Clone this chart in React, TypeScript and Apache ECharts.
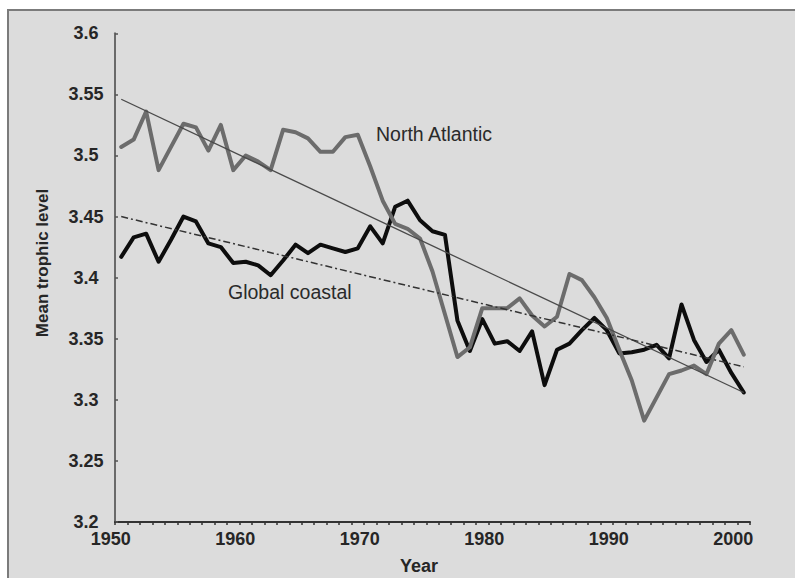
import React, { useEffect, useRef } from "react";
import * as echarts from "echarts";

// Categories: years 1950..2000
const years: string[] = [];
for (let y = 1950; y <= 2000; y++) years.push(String(y));

// Mean trophic level, North Atlantic (grey line)
const northAtlantic: number[] = [
  3.507, 3.513, 3.536, 3.488, 3.507, 3.526, 3.523, 3.504, 3.525, 3.488,
  3.500, 3.495, 3.488, 3.521, 3.519, 3.514, 3.503, 3.503, 3.515, 3.517,
  3.491, 3.463, 3.444, 3.440, 3.432, 3.405, 3.370, 3.335, 3.343, 3.375,
  3.375, 3.375, 3.383, 3.369, 3.360, 3.368, 3.403, 3.398, 3.384, 3.367,
  3.341, 3.316, 3.283, 3.302, 3.321, 3.324, 3.328, 3.321, 3.346, 3.357,
  3.337,
];

// Mean trophic level, Global coastal (black line)
const globalCoastal: number[] = [
  3.417, 3.433, 3.436, 3.413, 3.431, 3.450, 3.446, 3.428, 3.425, 3.412,
  3.413, 3.410, 3.402, 3.414, 3.427, 3.420, 3.427, 3.424, 3.421, 3.424,
  3.442, 3.428, 3.458, 3.463, 3.447, 3.438, 3.435, 3.365, 3.340, 3.366,
  3.346, 3.348, 3.340, 3.356, 3.312, 3.341, 3.346, 3.357, 3.367, 3.357,
  3.338, 3.339, 3.341, 3.345, 3.334, 3.378, 3.349, 3.331, 3.341, 3.322,
  3.306,
];

// Linear trend end points (1950, 2000)
const northAtlanticTrend: number[] = [3.546, 3.306];
const globalCoastalTrend: number[] = [3.450, 3.327];

const yTickLabels: string[] = ["3.2", "3.25", "3.3", "3.35", "3.4", "3.45", "3.5", "3.55", "3.6"];

const FONT = "'Liberation Sans', Arial, sans-serif";

export default function App() {
  const ref = useRef<HTMLDivElement>(null);

  useEffect(() => {
    if (!ref.current) return;
    const chart = echarts.init(ref.current, null, { renderer: "svg" });
    const first = years[0];
    const last = years[years.length - 1];
    chart.setOption({
      animation: false,
      backgroundColor: "#ffffff",
      grid: { left: 115, top: 33.3, width: 635, height: 488.7, containLabel: false },
      xAxis: {
        type: "category",
        data: years,
        boundaryGap: true,
        axisLine: { show: true, lineStyle: { color: "#333333", width: 2 } },
        axisTick: { show: true, interval: 0, length: 3, lineStyle: { color: "#333333", width: 1.5 } },
        axisLabel: {
          interval: 9,
          fontFamily: FONT,
          fontSize: 18,
          fontWeight: "bold",
          color: "#262626",
          margin: 8,
          padding: [0, 21, 0, 0],
        },
        splitLine: { show: false },
      },
      yAxis: {
        type: "value",
        min: 3.2,
        max: 3.6,
        interval: 0.05,
        axisLine: { show: true, lineStyle: { color: "#6a6a6a", width: 2 } },
        axisTick: { show: true, inside: true, length: 3, lineStyle: { color: "#555555", width: 1.5 } },
        axisLabel: {
          fontFamily: FONT,
          fontSize: 18,
          fontWeight: "bold",
          color: "#262626",
          align: "center",
          margin: 29,
          formatter: (v: number) => {
            const idx = Math.round((v - 3.2) / 0.05);
            return yTickLabels[idx] ?? String(v);
          },
        },
        splitLine: { show: false },
      },
      series: [
        {
          name: "Global coastal",
          type: "line",
          data: globalCoastal,
          symbol: "none",
          lineStyle: { color: "#0d0d0d", width: 4, join: "round", cap: "round" },
          z: 3,
        },
        {
          name: "North Atlantic",
          type: "line",
          data: northAtlantic,
          symbol: "none",
          lineStyle: { color: "#6c6c6c", width: 4, join: "round", cap: "round" },
          z: 4,
        },
        {
          name: "North Atlantic trend",
          type: "line",
          data: [
            [first, northAtlanticTrend[0]],
            [last, northAtlanticTrend[1]],
          ],
          symbol: "none",
          lineStyle: { color: "#4a4a4a", width: 1.3 },
          z: 5,
        },
        {
          name: "Global coastal trend",
          type: "line",
          data: [
            [first, globalCoastalTrend[0]],
            [last, globalCoastalTrend[1]],
          ],
          symbol: "none",
          lineStyle: { color: "#333333", width: 1.5, type: [7, 3, 2, 3] },
          z: 5,
        },
      ],
      graphic: [
        {
          type: "rect",
          z: -10,
          silent: true,
          shape: { x: 8, y: 10, width: 800, height: 600 },
          style: { fill: "#dcdcdc", stroke: "#7b7b7b", lineWidth: 2 },
        },
        {
          type: "text",
          x: 376,
          y: 134,
          style: {
            text: "North Atlantic",
            fontFamily: FONT,
            fontSize: 19.5,
            fill: "#2a2a2a",
            align: "left",
            verticalAlign: "middle",
          },
        },
        {
          type: "text",
          x: 228,
          y: 292,
          style: {
            text: "Global coastal",
            fontFamily: FONT,
            fontSize: 19.5,
            fill: "#2a2a2a",
            align: "left",
            verticalAlign: "middle",
          },
        },
        {
          type: "text",
          x: 42,
          y: 263,
          rotation: Math.PI / 2,
          style: {
            text: "Mean trophic level",
            fontFamily: FONT,
            fontSize: 17,
            fontWeight: "bold",
            fill: "#262626",
            align: "center",
            verticalAlign: "middle",
          },
        },
        {
          type: "text",
          x: 419,
          y: 566,
          style: {
            text: "Year",
            fontFamily: FONT,
            fontSize: 18,
            fontWeight: "bold",
            fill: "#262626",
            align: "center",
            verticalAlign: "middle",
          },
        },
      ],
    });
    return () => chart.dispose();
  }, []);

  return (
    <div
      ref={ref}
      style={{ position: "absolute", left: 0, top: 0, width: 795, height: 578 }}
    />
  );
}
